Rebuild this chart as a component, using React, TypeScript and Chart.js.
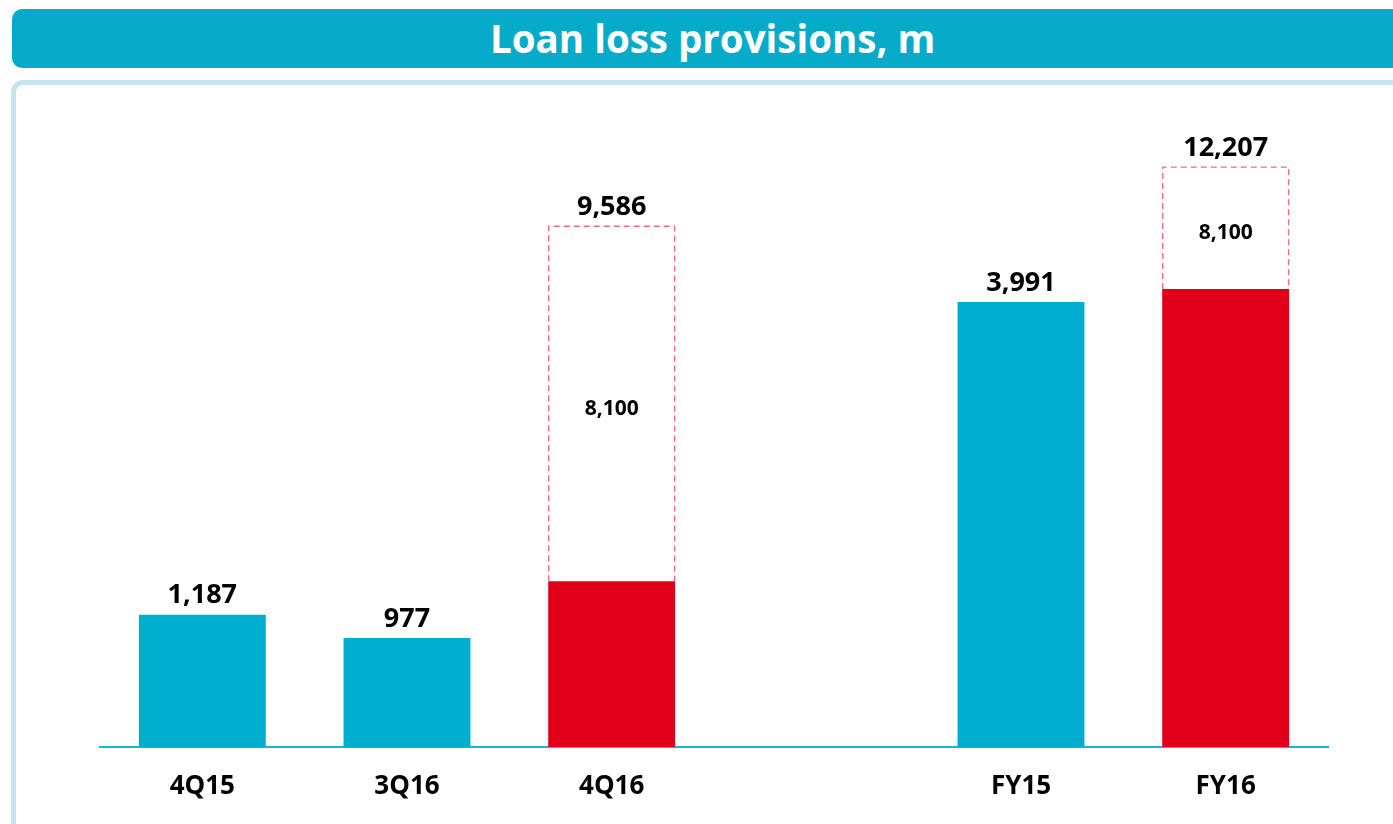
import React, { useEffect, useRef } from "react";
import { Chart, registerables } from "chart.js";

Chart.register(...registerables);

const categories = ["4Q15", "3Q16", "4Q16", "", "FY15", "FY16"];
// underlying (recurring) provisions
const baseValues = [1187, 977, 1486, null, 3991, 4107];
// one-off charge shown as dashed box (label value)
const oneOffValues = [null, null, 8100, null, null, 8100];
// totals shown above bars
const totalValues = [1187, 977, 9586, null, 3991, 12207];
// drawn extent of the dashed (not-to-scale) box, in axis units
const oneOffBoxExtent = [null, null, 3184, null, null, 1094];
// which bars are red (2016 periods)
const highlight = [false, false, true, false, false, true];

const TEAL = "#00AECF";
const RED = "#E0001A";

const fmt = (v: number) => v.toLocaleString("en-US");

export default function App() {
  const ref = useRef<HTMLCanvasElement | null>(null);

  useEffect(() => {
    document.body.style.margin = "0";
    const canvas = ref.current!;
    const labelPlugin = {
      id: "customLabels",
      afterDatasetsDraw(chart: any) {
        const ctx = chart.ctx;
        const baseMeta = chart.getDatasetMeta(0);
        const boxMeta = chart.getDatasetMeta(1);
        ctx.save();
        // dashed boxes
        boxMeta.data.forEach((el: any, i: number) => {
          if (oneOffBoxExtent[i] == null) return;
          const { x, y, base, width } = el.getProps(["x", "y", "base", "width"], true);
          const l = x - width / 2 + 0.5;
          const r = x + width / 2 - 0.5;
          ctx.strokeStyle = "#F26B7E";
          ctx.lineWidth = 1.4;
          ctx.setLineDash([6, 4]);
          ctx.beginPath();
          ctx.moveTo(l, base);
          ctx.lineTo(l, y);
          ctx.lineTo(r, y);
          ctx.lineTo(r, base);
          ctx.stroke();
          ctx.setLineDash([]);
          ctx.fillStyle = "#000";
          ctx.font = "bold 21px 'Open Sans'";
          ctx.textAlign = "center";
          ctx.textBaseline = "middle";
          ctx.fillText(fmt(oneOffValues[i] as number), x, (y + base) / 2 + 5);
        });
        // totals
        baseMeta.data.forEach((el: any, i: number) => {
          if (totalValues[i] == null) return;
          let top = el.y;
          const boxEl = boxMeta.data[i];
          if (oneOffBoxExtent[i] != null) top = boxEl.y;
          ctx.fillStyle = "#000";
          ctx.font = "bold 27px 'Open Sans'";
          ctx.textAlign = "center";
          ctx.textBaseline = "middle";
          ctx.fillText(fmt(totalValues[i] as number), el.x, top - 19);
        });
        ctx.restore();
      },
    };

    const chart = new Chart(canvas, {
      type: "bar",
      data: {
        labels: categories,
        datasets: [
          {
            label: "Provisions",
            data: baseValues as any,
            backgroundColor: highlight.map((h) => (h ? RED : TEAL)),
            barPercentage: 0.62,
            categoryPercentage: 1,
          },
          {
            label: "One-off",
            data: oneOffBoxExtent as any,
            backgroundColor: "rgba(0,0,0,0)",
            barPercentage: 0.62,
            categoryPercentage: 1,
          },
        ],
      },
      options: {
        animation: false,
        responsive: false,
        maintainAspectRatio: false,
        layout: { padding: { left: 100, right: 65, top: 78, bottom: 0 } },
        plugins: {
          legend: { display: false },
          tooltip: { enabled: false },
        },
        scales: {
          x: {
            stacked: true,
            grid: { display: false, drawTicks: false },
            border: { display: true, color: "#1AB5D5", width: 2 },
            ticks: {
              color: "#000",
              font: { family: "'Open Sans'", size: 26, weight: "bold" },
              padding: 24,
            },
            afterFit: (scale: any) => {
              scale.height = 77;
            },
          },
          y: {
            stacked: true,
            display: false,
            min: 0,
            max: 6000,
          },
        },
      },
      plugins: [labelPlugin],
    });
    return () => chart.destroy();
  }, []);

  return (
    <div style={{ position: "fixed", left: 0, top: 0, width: 1393, height: 824, overflow: "hidden", background: "#fff" }}>
      <div
        style={{
          position: "absolute",
          left: 12,
          top: 9,
          width: 1400,
          height: 59,
          background: "#07ABCA",
          borderRadius: 10,
          color: "#fff",
          fontFamily: "'Open Sans', sans-serif",
          fontWeight: 700,
          fontSize: 38.5,
          lineHeight: "59px",
          boxSizing: "border-box",
          paddingLeft: 478,
          whiteSpace: "nowrap",
        }}
      >
        Loan loss provisions, m
      </div>
      <div
        style={{
          position: "absolute",
          left: 11,
          top: 80,
          width: 1420,
          height: 760,
          border: "5px solid #C5E4EE",
          borderRadius: 12,
          boxSizing: "border-box",
        }}
      />
      <canvas ref={ref} width={1393} height={824} style={{ position: "absolute", left: 0, top: 0 }} />
    </div>
  );
}
